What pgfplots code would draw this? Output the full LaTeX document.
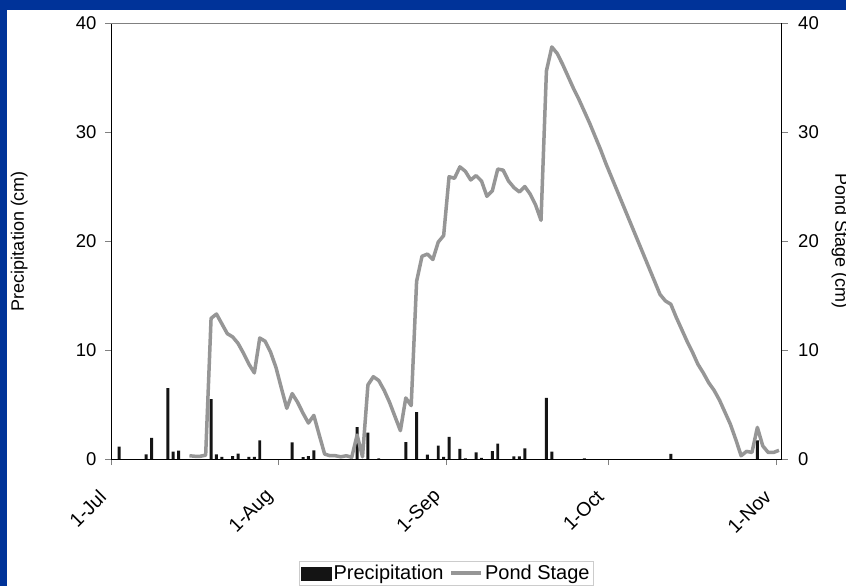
\documentclass[border=0pt]{standalone}
\usepackage{pgfplots}
\pgfplotsset{compat=1.18}
\usepackage{fontspec}
\setmainfont{Liberation Sans}
\definecolor{frameblue}{RGB}{0,51,153}
\definecolor{pondgray}{RGB}{150,150,150}
\definecolor{barblack}{RGB}{20,20,20}
\newcommand\ylbl{\fontsize{18.5bp}{21bp}\selectfont}
\newcommand\xlbl{\fontsize{19.5bp}{22bp}\selectfont}
\newcommand\ttl{\fontsize{18bp}{21bp}\selectfont}
\newcommand\lgd{\fontsize{20bp}{23bp}\selectfont}

\pgfplotstableread{
x y
1.5 1.13
6.5 0.43
7.5 1.93
10.5 6.5
11.5 0.67
12.5 0.76
18.5 5.5
19.5 0.43
20.5 0.2
22.5 0.27
23.5 0.49
25.5 0.2
26.5 0.2
27.5 1.7
33.5 1.53
35.5 0.18
36.5 0.27
37.5 0.8
45.5 2.93
47.5 2.42
49.5 0.05
54.5 1.55
56.5 4.3
58.5 0.4
60.5 1.22
61.5 0.2
62.5 2.03
64.5 0.92
65.5 0.05
67.5 0.61
68.5 0.1
70.5 0.73
71.5 1.42
74.5 0.25
75.5 0.25
76.5 0.98
80.5 5.6
81.5 0.67
87.5 0.05
103.5 0.46
119.5 1.7
}\precip

\pgfplotstableread{
x y
14.5 0.3
15.5 0.25
16.5 0.25
17.5 0.35
18.5 12.9
19.5 13.3
20.5 12.4
21.5 11.5
22.5 11.2
23.5 10.6
24.5 9.7
25.5 8.7
26.5 7.9
27.5 11.1
28.5 10.8
29.5 9.8
30.5 8.4
31.5 6.5
32.5 4.65
33.5 6.0
34.5 5.2
35.5 4.2
36.5 3.3
37.5 4.0
38.5 2.2
39.5 0.45
40.5 0.3
41.5 0.3
42.5 0.2
43.5 0.3
44.5 0.15
45.5 2.2
46.5 0.2
47.5 6.8
48.5 7.55
49.5 7.2
50.5 6.3
51.5 5.2
52.5 3.9
53.5 2.6
54.5 5.6
55.5 4.9
56.5 16.3
57.5 18.6
58.5 18.8
59.5 18.3
60.5 19.9
61.5 20.5
62.5 25.9
63.5 25.75
64.5 26.8
65.5 26.4
66.5 25.6
67.5 26.0
68.5 25.5
69.5 24.1
70.5 24.6
71.5 26.6
72.5 26.5
73.5 25.5
74.5 24.9
75.5 24.5
76.5 25.0
77.5 24.3
78.5 23.3
79.5 21.9
80.5 35.6
81.5 37.8
82.5 37.2
83.5 36.2
84.5 35.1
85.5 34.0
86.5 33.0
87.5 31.9
88.5 30.8
89.5 29.6
90.5 28.4
91.5 27.1
92.5 25.9
93.5 24.7
94.5 23.5
95.5 22.3
96.5 21.1
97.5 19.9
98.5 18.7
99.5 17.5
100.5 16.3
101.5 15.1
102.5 14.5
103.5 14.2
104.5 13.0
105.5 11.9
106.5 10.8
107.5 9.8
108.5 8.7
109.5 7.9
110.5 7.0
111.5 6.3
112.5 5.4
113.5 4.3
114.5 3.2
115.5 1.8
116.5 0.3
117.5 0.7
118.5 0.6
119.5 2.9
120.5 1.2
121.5 0.6
122.5 0.6
123.5 0.8
}\pond

\begin{document}
\begin{tikzpicture}
\path[use as bounding box] (0bp,0bp) rectangle (846bp,586bp);
\fill[frameblue] (0bp,0bp) rectangle (846bp,586bp);
\fill[white] (7bp,0bp) rectangle (846bp,576bp);

\pgfplotsset{
  common/.style={
    at={(111bp,127bp)}, anchor=south west,
    width=670.7bp, height=436bp, scale only axis,
    xmin=0, xmax=124, ymin=0, ymax=40,
    ytick={0,10,20,30,40},
    tick align=outside,
    major tick length=6bp,
    every tick/.style={gray},
    yticklabel style={font=\ylbl},
    /pgf/number format/assume math mode=true,
    axis line style={black, line width=0.8bp},
  }
}

\begin{axis}[common,
  axis x line*=bottom, axis y line*=left,
  xtick={0,31,62,92,123},
  xticklabels={1-Jul,1-Aug,1-Sep,1-Oct,1-Nov},
  xticklabel style={font=\xlbl, xshift=-6bp, yshift=-26bp, rotate=45, anchor=east},
  yticklabel style={xshift=-5bp},
  ylabel={Precipitation (cm)},
  ylabel style={font=\ttl, at={(axis description cs:-0.137,0.5)}, anchor=center},
  clip=false,
]
\draw[gray, line width=0.8bp] (rel axis cs:0,1) -- (rel axis cs:1,1);
\addplot[ybar, bar width=0.55, fill=barblack, draw=none] table[x=x,y=y] {\precip};
\end{axis}

\begin{axis}[common,
  axis x line=none, axis y line*=right,
  yticklabel style={xshift=7bp},
  ylabel={Pond Stage (cm)},
  ylabel style={font=\ttl, at={(axis description cs:1.087,0.5)}, anchor=center, rotate=180},
  legend style={at={(0.5,-0.234)}, anchor=north, legend columns=2,
    draw=gray!40, fill=white, font=\lgd, inner sep=2bp,
    /tikz/every even column/.append style={column sep=4bp}},
]
\addlegendimage{legend image code/.code={\fill[barblack] (0bp,-6.5bp) rectangle (30bp,6.5bp);}}
\addlegendentry{Precipitation}
\addplot[pondgray, line width=3.5bp, line join=round,
  legend image code/.code={\draw[pondgray, line width=3.5bp] (0bp,0bp) -- (30bp,0bp);}]
  table[x=x,y=y] {\pond};
\addlegendentry{Pond Stage}
\end{axis}
\end{tikzpicture}
\end{document}
